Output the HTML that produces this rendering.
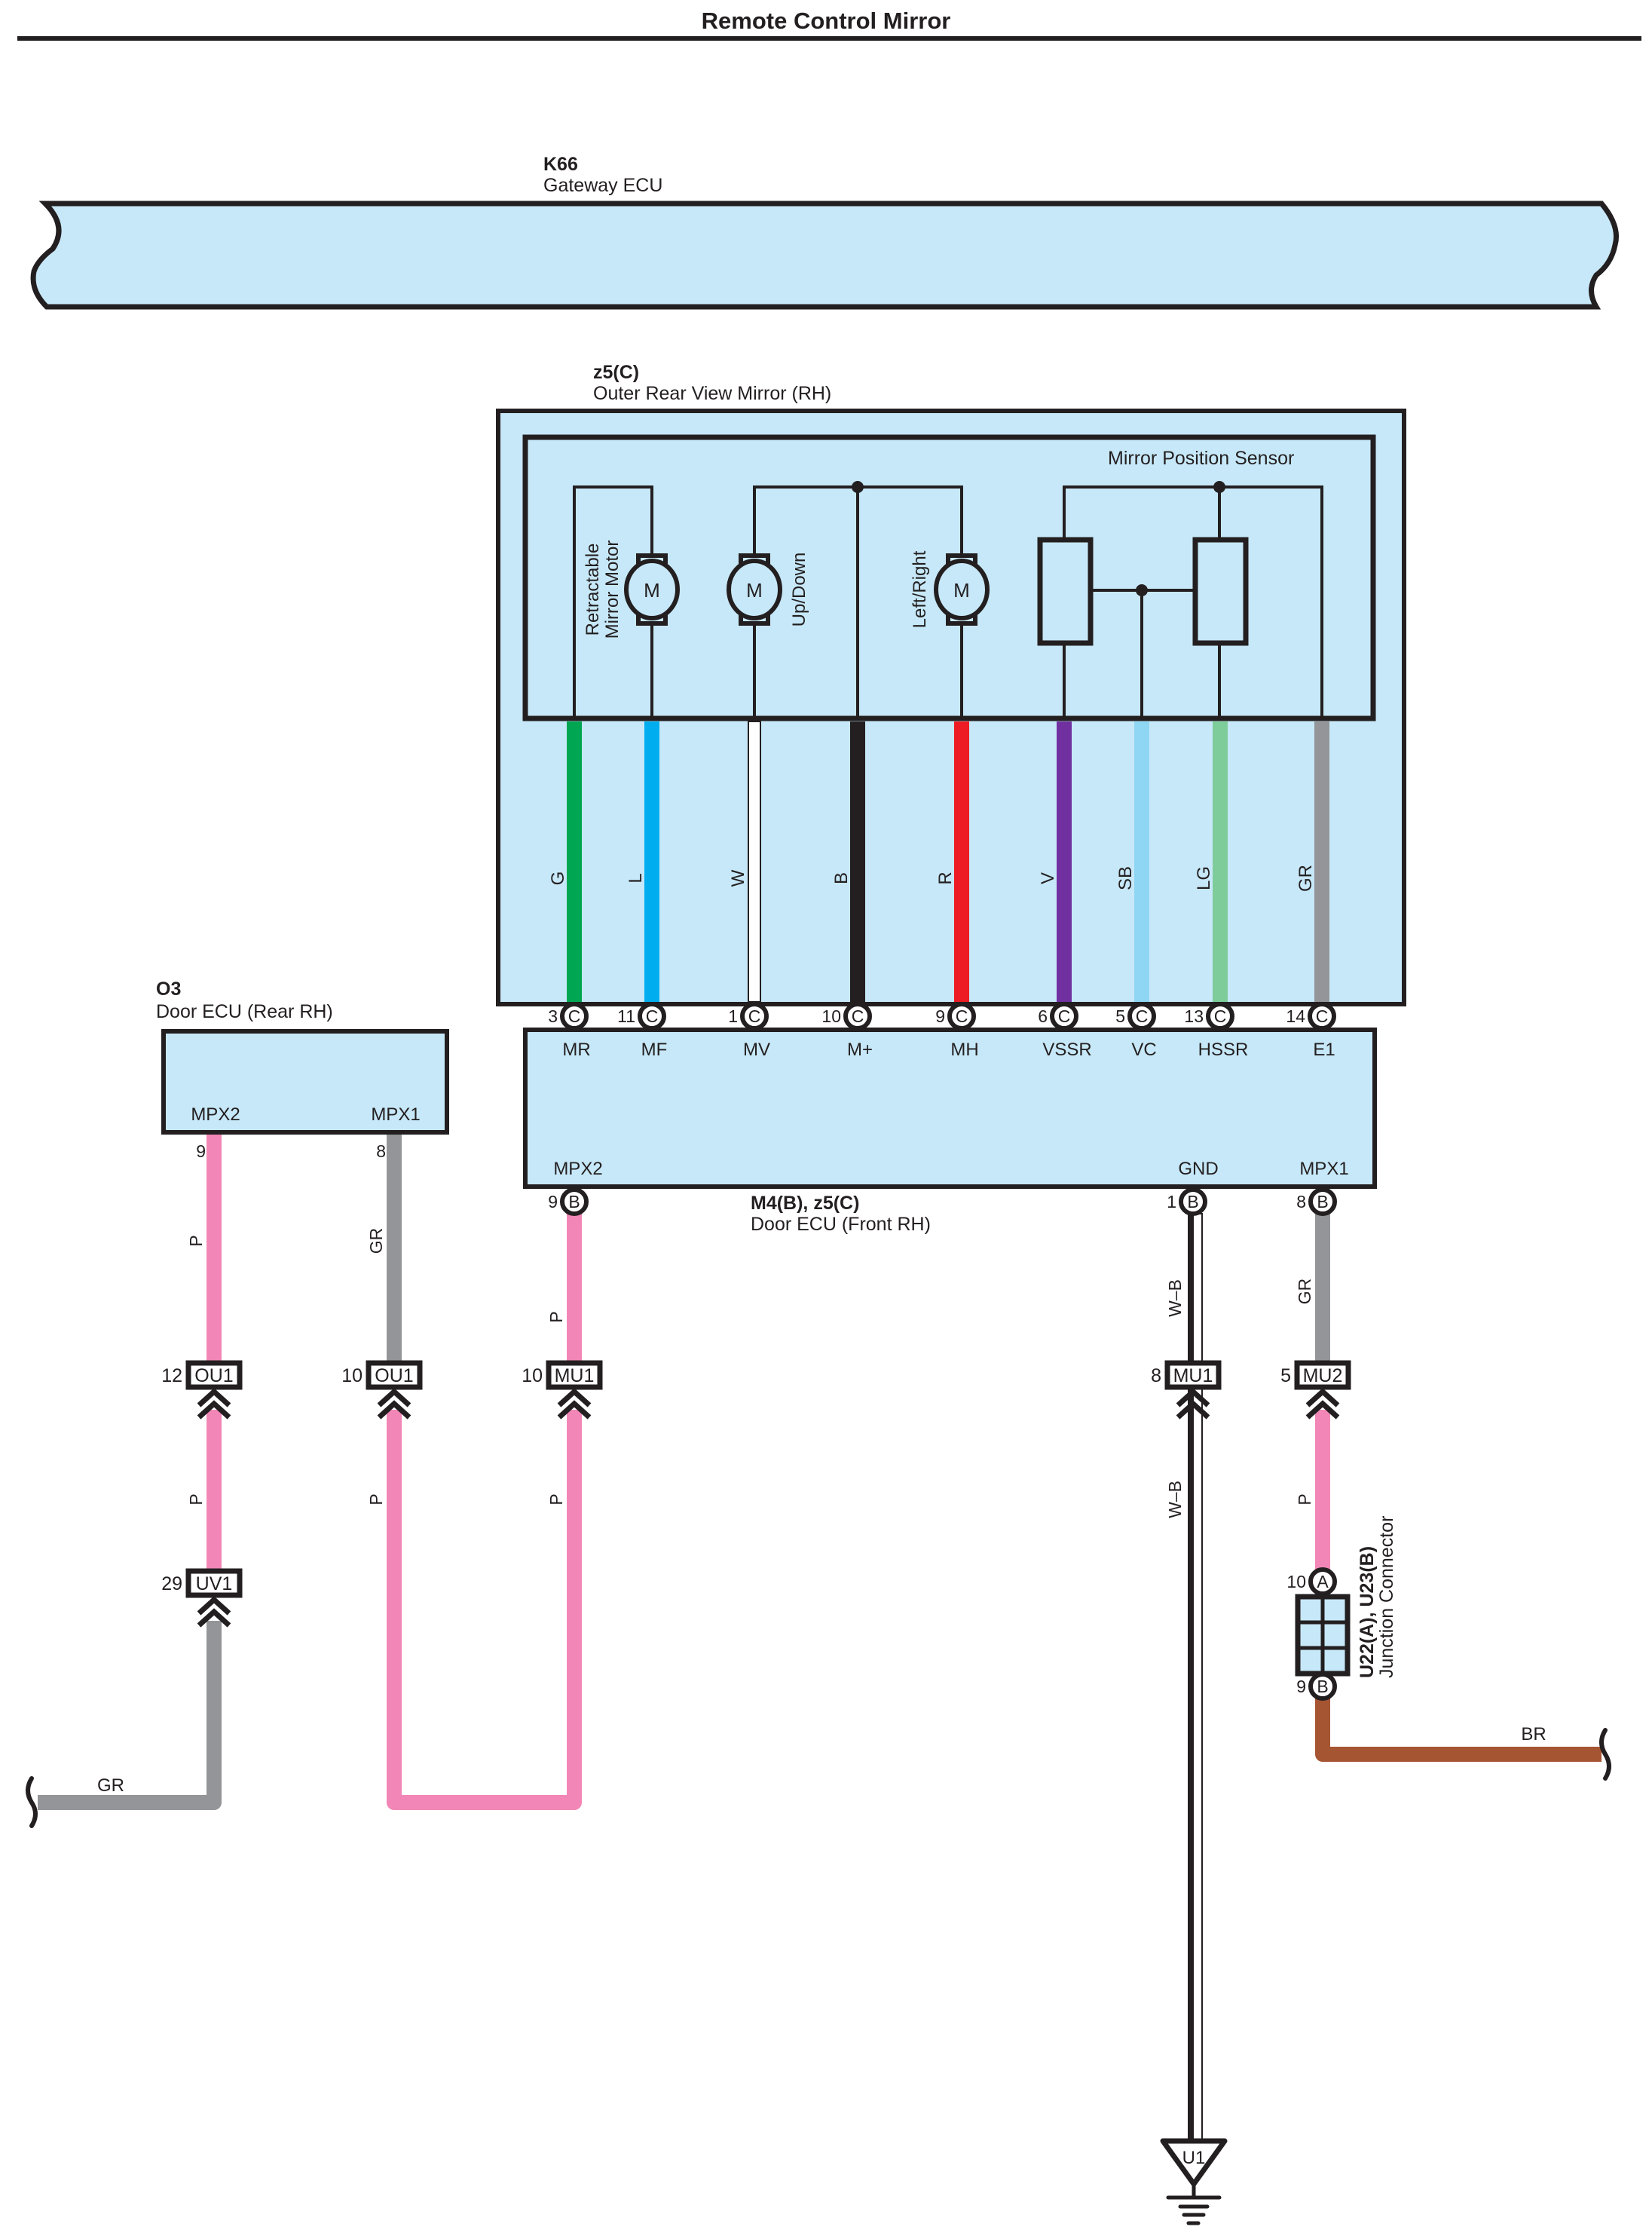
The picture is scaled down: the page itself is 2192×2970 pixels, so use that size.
<!DOCTYPE html>
<html><head><meta charset="utf-8"><style>
html,body{margin:0;padding:0;background:#fff}
svg{display:block}
text{font-family:"Liberation Sans Narrow","Liberation Sans",sans-serif;fill:#231f20}
</style></head><body>
<svg width="2192" height="2970" viewBox="0 0 2192 2970" xmlns="http://www.w3.org/2000/svg">
<defs>
<g id="chev"><polyline points="-20,22 0,4 20,22" fill="none" stroke="#231f20" stroke-width="7"/><polyline points="-20,38 0,20 20,38" fill="none" stroke="#231f20" stroke-width="7"/></g>
</defs>
<text x="1096" y="38" font-size="31" font-weight="bold" text-anchor="middle" font-family="Liberation Sans">Remote Control Mirror</text>
<rect x="23" y="48" width="2155" height="6" fill="#231f20"/>

<!-- Gateway -->
<text x="721" y="226" font-size="25" font-weight="bold">K66</text>
<text x="721" y="254" font-size="25">Gateway ECU</text>
<path d="M60,270 L2125,270 Q2150,300 2143,325 Q2138,350 2118,365 Q2105,385 2118,407 L62,407 Q40,385 45,360 Q50,345 70,330 Q90,300 60,270 Z" fill="#c7e8f8" stroke="#231f20" stroke-width="7"/>

<!-- Mirror -->
<text x="787" y="502" font-size="25" font-weight="bold">z5(C)</text>
<text x="787" y="530" font-size="25">Outer Rear View Mirror (RH)</text>
<rect x="661" y="545" width="1202" height="787" fill="#c7e8f8" stroke="#231f20" stroke-width="6"/>
<rect x="697" y="580" width="1125" height="373" fill="none" stroke="#231f20" stroke-width="7"/>
<text x="1470" y="616" font-size="25">Mirror Position Sensor</text>

<g stroke="#231f20" stroke-width="4" fill="none">
<polyline points="762,953 762,646 865,646 865,953"/>
<polyline points="1001,953 1001,646 1276,646 1276,953"/>
<line x1="1138" y1="646" x2="1138" y2="953"/>
<polyline points="1412,713 1412,646 1754,646 1754,953"/>
<line x1="1618" y1="646" x2="1618" y2="713"/>
<line x1="1412" y1="853" x2="1412" y2="953"/>
<line x1="1618" y1="853" x2="1618" y2="953"/>
<line x1="1447" y1="783" x2="1583" y2="783"/>
<line x1="1515" y1="783" x2="1515" y2="953"/>
</g>
<circle cx="1138" cy="646" r="8" fill="#231f20"/>
<circle cx="1618" cy="646" r="8" fill="#231f20"/>
<circle cx="1515" cy="783" r="8" fill="#231f20"/>
<rect x="1380" y="716" width="67" height="137" fill="#c7e8f8" stroke="#231f20" stroke-width="7"/>
<rect x="1586" y="716" width="67" height="137" fill="#c7e8f8" stroke="#231f20" stroke-width="7"/>

<g fill="#c7e8f8" stroke="#231f20" stroke-width="6">
<rect x="847" y="737" width="36" height="16"/><rect x="847" y="811" width="36" height="16"/><ellipse cx="865" cy="782" rx="34" ry="38"/>
<rect x="983" y="737" width="36" height="16"/><rect x="983" y="811" width="36" height="16"/><ellipse cx="1001" cy="782" rx="34" ry="38"/>
<rect x="1258" y="737" width="36" height="16"/><rect x="1258" y="811" width="36" height="16"/><ellipse cx="1276" cy="782" rx="34" ry="38"/>
</g>
<text x="865" y="792" font-size="26" text-anchor="middle">M</text>
<text x="1001" y="792" font-size="26" text-anchor="middle">M</text>
<text x="1276" y="792" font-size="26" text-anchor="middle">M</text>
<text transform="translate(794,782) rotate(-90)" font-size="24" text-anchor="middle" font-family="Liberation Sans">Retractable</text>
<text transform="translate(820,782) rotate(-90)" font-size="24" text-anchor="middle" font-family="Liberation Sans">Mirror Motor</text>
<text transform="translate(1068,782) rotate(-90)" font-size="24" text-anchor="middle" font-family="Liberation Sans">Up/Down</text>
<text transform="translate(1228,782) rotate(-90)" font-size="24" text-anchor="middle" font-family="Liberation Sans">Left/Right</text>

<!-- mirror wires -->
<g stroke-width="20">
<line x1="762" y1="957" x2="762" y2="1329" stroke="#00a651"/>
<line x1="865" y1="957" x2="865" y2="1329" stroke="#00aeef"/>
<line x1="1138" y1="957" x2="1138" y2="1329" stroke="#231f20"/>
<line x1="1276" y1="957" x2="1276" y2="1329" stroke="#ed1c24"/>
<line x1="1412" y1="957" x2="1412" y2="1329" stroke="#7030a0"/>
<line x1="1515" y1="957" x2="1515" y2="1329" stroke="#8fd6f4"/>
<line x1="1619" y1="957" x2="1619" y2="1329" stroke="#7dcc9a"/>
<line x1="1754" y1="957" x2="1754" y2="1329" stroke="#939598"/>
</g>
<rect x="993" y="957" width="16" height="372" fill="#fff" stroke="#231f20" stroke-width="2"/>
<g font-size="24" font-family="Liberation Sans">
<text transform="translate(748,1165) rotate(-90)" text-anchor="middle">G</text>
<text transform="translate(851,1165) rotate(-90)" text-anchor="middle">L</text>
<text transform="translate(987,1165) rotate(-90)" text-anchor="middle">W</text>
<text transform="translate(1124,1165) rotate(-90)" text-anchor="middle">B</text>
<text transform="translate(1262,1165) rotate(-90)" text-anchor="middle">R</text>
<text transform="translate(1398,1165) rotate(-90)" text-anchor="middle">V</text>
<text transform="translate(1501,1165) rotate(-90)" text-anchor="middle">SB</text>
<text transform="translate(1605,1165) rotate(-90)" text-anchor="middle">LG</text>
<text transform="translate(1740,1165) rotate(-90)" text-anchor="middle">GR</text>
</g>

<!-- Front ECU -->
<rect x="697" y="1366" width="1127" height="208" fill="#c7e8f8" stroke="#231f20" stroke-width="6"/>
<g font-size="24" text-anchor="middle">
<text x="765" y="1400">MR</text><text x="868" y="1400">MF</text><text x="1004" y="1400">MV</text>
<text x="1141" y="1400">M+</text><text x="1280" y="1400">MH</text><text x="1416" y="1400">VSSR</text>
<text x="1518" y="1400">VC</text><text x="1623" y="1400">HSSR</text><text x="1757" y="1400">E1</text>
<text x="767" y="1558">MPX2</text><text x="1590" y="1558">GND</text><text x="1757" y="1558">MPX1</text>
</g>
<g fill="#fff" stroke="#231f20" stroke-width="6">
<circle cx="762" cy="1348" r="16"/><circle cx="865" cy="1348" r="16"/><circle cx="1001" cy="1348" r="16"/>
<circle cx="1138" cy="1348" r="16"/><circle cx="1276" cy="1348" r="16"/><circle cx="1412" cy="1348" r="16"/>
<circle cx="1515" cy="1348" r="16"/><circle cx="1619" cy="1348" r="16"/><circle cx="1754" cy="1348" r="16"/>
</g>
<g font-size="23" text-anchor="middle">
<text x="762" y="1356">C</text><text x="865" y="1356">C</text><text x="1001" y="1356">C</text>
<text x="1138" y="1356">C</text><text x="1276" y="1356">C</text><text x="1412" y="1356">C</text>
<text x="1515" y="1356">C</text><text x="1619" y="1356">C</text><text x="1754" y="1356">C</text>
</g>
<g font-size="23" text-anchor="end">
<text x="740" y="1356">3</text><text x="843" y="1356">11</text><text x="979" y="1356">1</text>
<text x="1116" y="1356">10</text><text x="1254" y="1356">9</text><text x="1390" y="1356">6</text>
<text x="1493" y="1356">5</text><text x="1597" y="1356">13</text><text x="1732" y="1356">14</text>
</g>
<text x="996" y="1604" font-size="25" font-weight="bold">M4(B), z5(C)</text>
<text x="996" y="1632" font-size="25">Door ECU (Front RH)</text>

<!-- Rear ECU -->
<text x="207" y="1320" font-size="25" font-weight="bold">O3</text>
<text x="207" y="1350" font-size="25">Door ECU (Rear RH)</text>
<rect x="217" y="1368" width="376" height="134" fill="#c7e8f8" stroke="#231f20" stroke-width="6"/>
<text x="286" y="1486" font-size="24" text-anchor="middle">MPX2</text>
<text x="525" y="1486" font-size="24" text-anchor="middle">MPX1</text>
<text x="273" y="1535" font-size="23" text-anchor="end">9</text>
<text x="512" y="1535" font-size="23" text-anchor="end">8</text>

<!-- lower wires -->
<g stroke-width="20" fill="none" stroke-linejoin="round">
<line x1="284" y1="1505" x2="284" y2="1808" stroke="#f287b7"/>
<line x1="284" y1="1870" x2="284" y2="2084" stroke="#f287b7"/>
<polyline points="284,2150 284,2391 50,2391" stroke="#939598"/>
<line x1="523" y1="1505" x2="523" y2="1808" stroke="#939598"/>
<polyline points="523,1870 523,2391 762,2391 762,1870" stroke="#f287b7"/>
<line x1="762" y1="1610" x2="762" y2="1808" stroke="#f287b7"/>
<line x1="1755" y1="1610" x2="1755" y2="1808" stroke="#939598"/>
<line x1="1755" y1="1870" x2="1755" y2="2085" stroke="#f287b7"/>
<polyline points="1755,2252 1755,2327 2125,2327" stroke="#a65533"/>
</g>
<path d="M42,2359 Q32,2375 42,2391 Q52,2406 42,2422" fill="none" stroke="#231f20" stroke-width="6" stroke-linecap="round"/>
<path d="M2130,2295 Q2120,2311 2130,2327 Q2140,2343 2130,2359" fill="none" stroke="#231f20" stroke-width="6" stroke-linecap="round"/>
<!-- W-B -->
<rect x="1577" y="1610" width="18" height="1230" fill="#fff" stroke="#231f20" stroke-width="2"/>
<rect x="1578" y="1610" width="6" height="1230" fill="#231f20"/>

<!-- pins -->
<g fill="#fff" stroke="#231f20" stroke-width="6">
<circle cx="762" cy="1594" r="16"/><circle cx="1583" cy="1594" r="16"/><circle cx="1755" cy="1594" r="16"/>
<circle cx="1755" cy="2098" r="16"/><circle cx="1755" cy="2237" r="16"/>
</g>
<g font-size="23" text-anchor="middle">
<text x="762" y="1602">B</text><text x="1583" y="1602">B</text><text x="1755" y="1602">B</text>
<text x="1755" y="2106">A</text><text x="1755" y="2245">B</text>
</g>
<g font-size="23" text-anchor="end">
<text x="740" y="1602">9</text><text x="1561" y="1602">1</text><text x="1733" y="1602">8</text>
<text x="1733" y="2106">10</text><text x="1733" y="2245">9</text>
</g>

<!-- junction -->
<rect x="1722" y="2118" width="66" height="102" fill="#c7e8f8" stroke="#231f20" stroke-width="7"/>
<g stroke="#231f20" stroke-width="5"><line x1="1755" y1="2118" x2="1755" y2="2220"/><line x1="1722" y1="2152" x2="1788" y2="2152"/><line x1="1722" y1="2186" x2="1788" y2="2186"/></g>
<text transform="translate(1822,2226) rotate(-90)" font-size="25" font-weight="bold">U22(A), U23(B)</text>
<text transform="translate(1848,2226) rotate(-90)" font-size="25">Junction Connector</text>
<text x="2035" y="2308" font-size="24" text-anchor="middle">BR</text>

<!-- connectors -->
<g fill="#fff" stroke="#231f20" stroke-width="7">
<rect x="250" y="1808" width="68" height="32"/><rect x="489" y="1808" width="68" height="32"/>
<rect x="728" y="1808" width="68" height="32"/><rect x="1549" y="1808" width="68" height="32"/>
<rect x="1721" y="1808" width="68" height="32"/><rect x="250" y="2084" width="68" height="32"/>
</g>
<g font-size="25" text-anchor="middle">
<text x="284" y="1833">OU1</text><text x="523" y="1833">OU1</text><text x="762" y="1833">MU1</text>
<text x="1583" y="1833">MU1</text><text x="1755" y="1833">MU2</text><text x="284" y="2109">UV1</text>
</g>
<g font-size="25" text-anchor="end">
<text x="242" y="1833">12</text><text x="481" y="1833">10</text><text x="720" y="1833">10</text>
<text x="1541" y="1833">8</text><text x="1713" y="1833">5</text><text x="242" y="2109">29</text>
</g>
<use href="#chev" x="284" y="1842"/><use href="#chev" x="523" y="1842"/><use href="#chev" x="762" y="1842"/>
<use href="#chev" x="1583" y="1842"/><use href="#chev" x="1755" y="1842"/><use href="#chev" x="284" y="2118"/>

<!-- wire labels lower -->
<g font-size="23" font-family="Liberation Sans" text-anchor="middle">
<text transform="translate(268,1646) rotate(-90)">P</text>
<text transform="translate(507,1646) rotate(-90)">GR</text>
<text transform="translate(746,1747) rotate(-90)">P</text>
<text transform="translate(268,1989) rotate(-90)">P</text>
<text transform="translate(507,1989) rotate(-90)">P</text>
<text transform="translate(746,1989) rotate(-90)">P</text>
<text transform="translate(1567,1722) rotate(-90)">W–B</text>
<text transform="translate(1567,1989) rotate(-90)">W–B</text>
<text transform="translate(1739,1713) rotate(-90)">GR</text>
<text transform="translate(1739,1989) rotate(-90)">P</text>
</g>
<text x="147" y="2376" font-size="24" text-anchor="middle">GR</text>

<!-- ground -->
<polygon points="1543,2840 1625,2840 1584,2897" fill="#fff" stroke="#231f20" stroke-width="7" stroke-linejoin="round"/>
<text x="1584" y="2870" font-size="24" text-anchor="middle">U1</text>
<g stroke="#231f20" stroke-width="5" stroke-linecap="round">
<line x1="1584" y1="2897" x2="1584" y2="2915"/>
<line x1="1550" y1="2915" x2="1618" y2="2915"/>
<line x1="1566" y1="2927" x2="1602" y2="2927"/>
<line x1="1571" y1="2938" x2="1597" y2="2938"/>
<line x1="1577" y1="2949" x2="1590" y2="2949"/>
</g>
</svg>
</body></html>
